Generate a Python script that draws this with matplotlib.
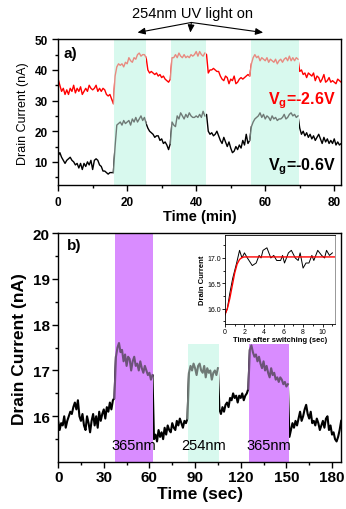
import numpy as np
import matplotlib
matplotlib.use("Agg")
import matplotlib.pyplot as plt

plt.rcParams['font.family'] = ['Liberation Sans', 'DejaVu Sans']
plt.rcParams['mathtext.fontset'] = 'custom'
plt.rcParams['mathtext.rm'] = 'Liberation Sans'
plt.rcParams['mathtext.bf'] = 'Liberation Sans:bold'

# ---- panel a) : drain current vs time (min), 0.5 min steps ----
t_min = np.arange(0, 83, 0.5)
i_vg26 = [37, 35, 33, 34, 32, 33.5, 32, 34, 33, 35, 32.5, 34, 33, 34.5, 32, 33, 34,
          33, 35, 34, 33.5, 34, 35, 33, 34, 33, 34, 33.5, 32, 31.5, 32, 30.5, 29,
          38, 41, 42, 41.5, 42, 41, 42.5, 42, 44, 43, 42.5, 44, 43.5, 45, 45.5, 44.5, 45, 45, 44,
          40, 39, 39.5, 39, 38.5, 39, 38, 38.5, 37.5, 38, 37, 36.5, 36, 37,
          44, 44, 45, 44, 45.5, 44.5, 44, 45, 44, 44.5, 44, 45, 44.5, 45, 46, 44.5, 46, 45, 44.5, 45.5, 45,
          39, 40, 40, 40.5, 40, 39.5, 39.5, 38, 37, 36.5, 38, 37.5, 35.5, 37, 36.5, 38, 35.5, 36, 37,
          37.5, 37, 37.5, 38, 38.5, 38,
          42, 44, 45, 44, 44.5, 43, 44, 43.5, 43, 44, 42.5, 43.5, 43, 42.5, 43.5, 42, 43, 43.5, 42.5,
          43.5, 44, 43, 44.5, 43, 44, 43, 44, 43.5,
          39.5, 40, 38.5, 39, 37.5, 39, 38.5, 38, 39, 36.5, 38, 37.5, 36, 37, 38.5, 36, 36.5, 37.5,
          36, 36.5, 36, 35.5, 37, 36.5, 36, 35.5]
i_vg06 = [12, 13, 11.5, 10.5, 9.5, 10.5, 11, 11.5, 10.5, 10, 9, 9.5, 8, 9.5, 7.5, 9.5, 8.5,
          10, 9, 10.5, 7.5, 10.5, 11, 10.5, 9, 8.5, 7, 7, 6.5, 6, 6.5, 6.5, 6.5,
          15, 22, 22.5, 23, 22, 23.5, 22.5, 23, 23.5, 22, 24, 23, 24.5, 23, 24, 25, 23.5, 24.5, 22.5,
          21, 20, 19.5, 19, 18, 18.5, 18.5, 17, 17.5, 16, 16.5, 15.5, 14, 16,
          23, 22, 21.5, 25, 24, 26, 25, 24, 25.5, 24.5, 26, 25, 24.5, 24.5, 25, 24.5, 25.5, 24.5, 26.5, 25, 25.5,
          20, 19, 19.5, 18.5, 19, 20, 18.5, 17, 16, 18, 16.5, 15, 16.5, 14.5, 13, 13.5, 15, 14, 15.5,
          14.5, 17, 15.5, 19, 16, 17,
          21.5, 23, 24, 24.5, 25, 26, 24.5, 25.5, 24, 25, 24.5, 23.5, 25, 24, 24.5, 23.5, 24, 24, 24.5,
          25.5, 24, 24.5, 25.5, 26, 25, 25.5, 24.5, 25,
          21, 19, 20, 18.5, 19.5, 18, 19, 17.5, 18.5, 17, 18, 19, 17.5, 16, 18, 16.5, 17.5, 16, 17,
          16, 17.5, 15.5, 16.5, 15.5, 16, 15.5]
uv_a = [(16.1, 25.6), (32.8, 42.9), (55.8, 69.8)]

# ---- panel b) : drain current vs time (sec), 1 s steps ----
t_sec = np.arange(0, 187, 1)
i_b = [15.9, 15.7, 15.85, 15.8, 16.0, 15.75, 15.9, 16.0, 16.1, 16.05, 16.2, 16.3, 16.15, 16.35,
       16.0, 15.9, 16.05, 15.8, 15.7, 16.0, 15.85, 15.65, 15.9, 16.05, 15.8, 16.0, 15.75, 16.1,
       15.9, 16.05, 16.15, 15.95, 16.2, 16.1, 16.3, 16.15, 16.35, 16.4,
       17.3, 17.5, 17.6, 17.4, 17.45, 17.2, 17.35, 17.1, 17.3, 17.25, 17.0, 17.2, 17.3, 17.1,
       17.15, 17.0, 17.2, 17.05, 16.95, 17.1, 17.0, 16.9, 16.95, 16.8, 16.9,
       15.5, 15.6, 15.45, 15.7, 15.55, 15.65, 15.5, 15.75, 15.6, 15.8, 15.7, 15.65, 15.85, 15.75,
       15.7, 15.9, 15.8, 15.95, 15.85, 15.75, 15.9, 15.85, 15.95,
       16.95, 17.1, 17.0, 17.15, 17.05, 16.9, 17.1, 17.15, 17.0, 16.95, 17.1, 16.85, 17.05, 16.95,
       17.0, 16.8, 16.95, 17.0, 16.9, 17.05,
       16.15, 16.05, 16.2, 16.1, 16.25, 16.3, 16.2, 16.4, 16.35, 16.5, 16.4, 16.45, 16.3, 16.45,
       16.4, 16.5, 16.35, 16.45, 16.5, 16.6,
       17.45, 17.55, 17.4, 17.3, 17.35, 17.2, 17.3, 17.15, 17.05, 17.2, 17.0, 17.1, 16.95, 16.85,
       17.05, 16.9, 16.95, 16.8, 16.85, 16.75, 16.85, 16.8, 16.7, 16.75, 16.65, 16.7,
       15.55, 15.7, 15.85, 15.75, 15.9, 15.8, 15.95, 16.1, 15.9, 16.0, 16.15, 16.25, 16.05, 15.95,
       16.1, 15.85, 15.9, 15.8, 15.95, 15.85, 15.7, 15.8, 15.9, 15.75, 15.95, 16.0, 15.7, 15.8,
       15.6, 15.65, 15.5, 15.45, 15.55, 15.7, 15.9]
spans_b = [(37.5, 62.5, "365nm"), (85.5, 105.5, "254nm"), (125.5, 151.5, "365nm")]

# ---- inset ----
t_ins = [0, 0.25, 0.5, 0.8, 1.0, 1.2, 1.5, 1.75, 2.0, 2.3, 2.8, 3.2, 3.5, 3.7, 3.9, 4.3, 4.7,
         5.0, 5.3, 5.7, 5.9, 6.1, 6.5, 6.8, 7.2, 7.5, 7.7, 8.0, 8.3, 8.6, 8.9, 9.1, 9.5, 9.9,
         10.2, 10.4, 10.7, 11.0]
i_ins = [15.88, 16.0, 16.3, 16.6, 16.75, 16.9, 17.15, 17.0, 17.1, 17.0, 16.85, 16.9, 17.05,
         17.0, 17.15, 17.2, 17.0, 17.05, 16.95, 16.95, 17.05, 16.9, 17.1, 17.15, 17.0, 16.95,
         17.1, 16.8, 16.9, 16.9, 17.05, 16.95, 17.15, 17.05, 17.0, 17.15, 17.05, 17.1]
t_fit = [0, 0.25, 0.5, 0.75, 1.0, 1.25, 1.5, 1.75, 2.0, 11.3]
i_fit = [15.88, 16.0, 16.2, 16.45, 16.7, 16.88, 16.97, 17.01, 17.02, 17.02]

cyan = '#d8f9ee'
purple = '#d98cff'

fig = plt.figure(figsize=(3.46, 5.10), dpi=100)

# ================= a) =================
ax1 = fig.add_axes([0.168, 0.635, 0.818, 0.286])
t_min = t_min[:len(i_vg26)]
y26 = np.array(i_vg26)
y06 = np.array(i_vg06)
ax1.plot(t_min, y26, color='red', lw=1.0, zorder=1)
ax1.plot(t_min, y06, color='black', lw=1.0, zorder=1)
for s, e in uv_a:
    ax1.axvspan(s, e, color=cyan, lw=0, zorder=2)
    m = (t_min >= s - 0.5) & (t_min <= e)
    ax1.plot(t_min, np.where(m, y26, np.nan), color='#e88a80', lw=1.0, zorder=3)
    ax1.plot(t_min, np.where(m, y06, np.nan), color='#6f7a76', lw=1.0, zorder=3)

ax1.set_xlim(0, 82)
ax1.set_ylim(2.4, 50)
ax1.set_xticks([0, 20, 40, 60, 80])
ax1.set_xticks([10, 30, 50, 70], minor=True)
ax1.set_yticks([10, 20, 30, 40, 50])
ax1.set_yticks([5, 15, 25, 35, 45], minor=True)
ax1.tick_params(direction='out', labelsize=8.5, length=4, width=1, top=False, right=False)
ax1.tick_params(which='minor', direction='out', length=2.5, width=1)
for lab in ax1.get_xticklabels() + ax1.get_yticklabels():
    lab.set_fontweight('bold')
for sp in ax1.spines.values():
    sp.set_linewidth(1.0)
ax1.set_xlabel('Time (min)', fontsize=10.5, fontweight='bold', labelpad=1)
ax1.set_ylabel('Drain Current (nA)', fontsize=9, labelpad=4)
ax1.text(1.5, 45.5, 'a)', fontsize=11, fontweight='bold', va='center')
ax1.text(80.5, 30.3, r'$\mathbf{V_g}$=-2.6V', color='red', fontsize=11.5,
         fontweight='bold', ha='right', va='center')
ax1.text(80.5, 8.8, r'$\mathbf{V_g}$=-0.6V', color='black', fontsize=11.5,
         fontweight='bold', ha='right', va='center')

fig.text(0.555, 0.972, '254nm UV light on', fontsize=10.5, ha='center', va='center')
for xt in [23, 38.3, 59.4]:
    ax1.annotate('', xy=(xt, 52.2), xycoords='data',
                 xytext=(0.553, 0.954), textcoords='figure fraction',
                 arrowprops=dict(arrowstyle='-|>,head_length=0.45,head_width=0.2',
                                 color='black', lw=0.8, shrinkA=0, shrinkB=0),
                 annotation_clip=False)

# ================= b) =================
ax2 = fig.add_axes([0.168, 0.092, 0.818, 0.449])
yb = np.array(i_b)
ax2.plot(t_sec, yb, color='black', lw=1.5, zorder=1)
for k, (s, e, lab) in enumerate(spans_b):
    col = purple if lab == '365nm' else cyan
    top = 1.0 if k == 0 else (17.58 - 15) / 5
    ax2.axvspan(s, e, ymin=0, ymax=top, color=col, lw=0, zorder=2)
    m = (t_sec >= s - 0.5) & (t_sec <= e)
    over = '#6c5278' if lab == '365nm' else '#6f7a76'
    ax2.plot(t_sec, np.where(m, yb, np.nan), color=over, lw=1.5, zorder=3)
    ax2.text((s + e) / 2, 15.38, lab, fontsize=10.5, ha='center', va='center', zorder=4)

ax2.set_xlim(0, 186)
ax2.set_ylim(15, 20)
ax2.set_xticks([0, 30, 60, 90, 120, 150, 180])
ax2.set_xticks([15, 45, 75, 105, 135, 165], minor=True)
ax2.set_yticks([16, 17, 18, 19, 20])
ax2.set_yticks([15.5, 16.5, 17.5, 18.5, 19.5], minor=True)
ax2.tick_params(direction='out', labelsize=11, length=4, width=1, top=False, right=False, pad=2)
ax2.tick_params(which='minor', direction='out', length=2.5, width=1)
for lab in ax2.get_xticklabels() + ax2.get_yticklabels():
    lab.set_fontweight('bold')
for sp in ax2.spines.values():
    sp.set_linewidth(1.0)
ax2.set_xlabel('Time (sec)', fontsize=12.5, fontweight='bold', labelpad=1)
ax2.set_ylabel('Drain Current (nA)', fontsize=12.5, fontweight='bold', labelpad=4)
ax2.text(6, 19.75, 'b)', fontsize=11, fontweight='bold', va='center')

# ================= inset =================
ax3 = fig.add_axes([0.650, 0.363, 0.318, 0.174])
ax3.plot(t_ins, i_ins, color='black', lw=0.7)
ax3.plot(t_fit, i_fit, color='red', lw=1.0)
ax3.set_xlim(0, 11.26)
ax3.set_ylim(15.7, 17.45)
ax3.set_xticks([0, 2, 4, 6, 8, 10])
ax3.set_xticks([1, 3, 5, 7, 9, 11], minor=True)
ax3.set_yticks([16.0, 16.5, 17.0])
ax3.set_yticks([15.75, 16.25, 16.75, 17.25], minor=True)
ax3.yaxis.set_major_formatter(matplotlib.ticker.FormatStrFormatter('%.1f'))
ax3.tick_params(direction='out', labelsize=5, length=2, width=0.6, pad=1)
ax3.tick_params(which='minor', direction='out', length=1.2, width=0.6)
for sp in ax3.spines.values():
    sp.set_linewidth(0.6)
ax3.spines['right'].set_color('#888888')
ax3.set_xlabel('Time after switching (sec)', fontsize=5.5, fontweight='bold', labelpad=0.5)
ax3.set_ylabel('Drain Current', fontsize=5.5, fontweight='bold', labelpad=1)

fig.savefig('out.png', dpi=100)
